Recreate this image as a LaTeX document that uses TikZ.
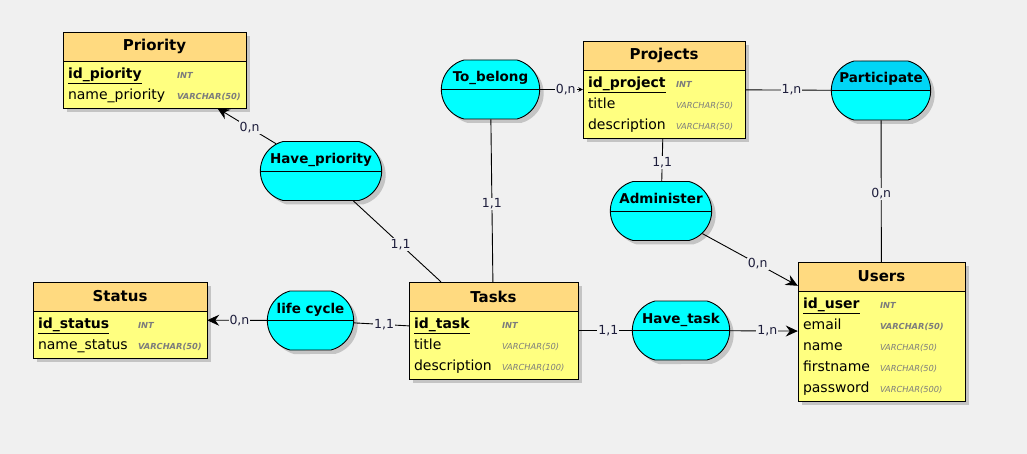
\documentclass[tikz,border=0pt]{standalone}
\usepackage{fontspec}
\setmainfont{DejaVu Sans}
\usetikzlibrary{positioning,shapes.misc,arrows.meta,fit,shadows}
\definecolor{canvas}{HTML}{F0F0F0}
\definecolor{headfill}{HTML}{FFDA80}
\definecolor{bodyfill}{HTML}{FFFF80}
\definecolor{relfill}{HTML}{00FFFF}
\definecolor{reltop}{HTML}{00D6F6}
\definecolor{shade}{HTML}{C4C4C4}
\definecolor{typegray}{HTML}{7C7C7C}
\definecolor{cardtext}{HTML}{1E1E3C}
\newcommand{\pkey}[1]{\underline{\textbf{#1}}}
\newcommand{\ftype}[1]{{\fontsize{8.3}{10}\selectfont\bfseries\itshape\color{typegray}#1}}
\newcommand{\ltype}[1]{{\fontsize{8.3}{10}\selectfont\itshape\color{typegray}#1}}
\tikzset{
  shad/.style={drop shadow={shadow xshift=4pt,shadow yshift=-4pt,fill=shade,opacity=1}},
  tabhead/.style={rectangle,draw,fill=headfill,shad,line width=0.9pt,outer sep=0pt,minimum width=#1,
    minimum height=29pt,inner sep=0pt,font=\fontsize{15}{17}\selectfont\bfseries},
  tabbody/.style={rectangle,draw,fill=bodyfill,shad,line width=0.9pt,outer sep=0pt,text width=#1,
    inner xsep=5pt,inner ysep=2.5pt,align=left,font=\fontsize{14}{21}\selectfont},
  rel/.style={rounded rectangle,rounded rectangle arc length=150,draw,fill=relfill,shad,
    line width=0.9pt,minimum height=59pt,minimum width=#1,text height=10pt,text depth=25pt,
    font=\fontsize{13.5}{16}\selectfont\bfseries,
    path picture={\draw[line width=0.9pt] (path picture bounding box.west) -- (path picture bounding box.east);}},
  relhi/.style={rel=#1,
    path picture={\fill[reltop] (path picture bounding box.north west) rectangle (path picture bounding box.east);
      \draw[line width=0.9pt] (path picture bounding box.west) -- (path picture bounding box.east);}},
  link/.style={draw,line width=0.9pt},
  arr/.style={link,-{Stealth[length=12pt,width=11pt,inset=4pt]}},
  arrs/.style={link,-{Stealth[length=4.5pt,width=4.5pt]}},
  card/.style={fill=canvas,inner sep=1pt,text=cardtext,font=\fontsize{12.5}{14}\selectfont},
}
\begin{document}
\begin{tikzpicture}[x=1pt,y=-1pt]
  \fill[canvas] (0,0) rectangle (1027,454);
  \useasboundingbox (0,0) rectangle (1027,454);

  % entities
  \node[tabhead=183pt,anchor=north west] (prioh) at (63,32) {Priority};
  \node[tabbody=173pt,below=0pt of prioh] (priob) {\begin{tabular}{@{}p{109pt}@{}l@{}}
    \pkey{id\_piority} & \ftype{INT}\\ name\_priority & \ftype{VARCHAR(50)}\end{tabular}};
  \node[fit=(prioh)(priob),inner sep=0pt] (prio) {};

  \node[tabhead=162pt,anchor=north west] (projh) at (583,41) {Projects};
  \node[tabbody=152pt,below=0pt of projh] (projb) {\begin{tabular}{@{}p{88pt}@{}l@{}}
    \pkey{id\_project} & \ftype{INT}\\ title & \ltype{VARCHAR(50)}\\
    description & \ltype{VARCHAR(50)}\end{tabular}};
  \node[fit=(projh)(projb),inner sep=0pt] (proj) {};

  \node[tabhead=174pt,anchor=north west] (stath) at (33,282) {Status};
  \node[tabbody=164pt,below=0pt of stath] (statb) {\begin{tabular}{@{}p{100pt}@{}l@{}}
    \pkey{id\_status} & \ftype{INT}\\ name\_status & \ftype{VARCHAR(50)}\end{tabular}};
  \node[fit=(stath)(statb),inner sep=0pt] (status) {};

  \node[tabhead=169pt,anchor=north west] (taskh) at (409,282) {Tasks};
  \node[tabbody=159pt,below=0pt of taskh] (taskb) {\begin{tabular}{@{}p{88pt}@{}l@{}}
    \pkey{id\_task} & \ftype{INT}\\ title & \ltype{VARCHAR(50)}\\
    description & \ltype{VARCHAR(100)}\end{tabular}};
  \node[fit=(taskh)(taskb),inner sep=0pt] (tasks) {};

  \node[tabhead=167pt,anchor=north west] (userh) at (798,262) {Users};
  \node[tabbody=157pt,below=0pt of userh] (userb) {\begin{tabular}{@{}p{77pt}@{}l@{}}
    \pkey{id\_user} & \ftype{INT}\\ email & \ftype{VARCHAR(50)}\\
    name & \ltype{VARCHAR(50)}\\ firstname & \ltype{VARCHAR(50)}\\
    password & \ltype{VARCHAR(500)}\end{tabular}};
  \node[fit=(userh)(userb),inner sep=0pt] (users) {};

  % associations
  \node[rel=128pt] (hprio) at (321,171) {Have\_priority};
  \node[rel=105pt] (tobel) at (490.5,89.5) {To\_belong};
  \node[relhi=106pt] (part) at (881,90.5) {Participate};
  \node[rel=108pt] (admin) at (661,211) {Administer};
  \node[rel=104pt] (htask) at (681,330.5) {Have\_task};
  \node[rel=93pt] (life) at (310.5,320.5) {life cycle};

  % links
  \draw[arr] (hprio) -- node[card,pos=0.45] (c1) {0,n} (prio);
  \draw[link] (hprio) -- node[card,pos=0.54] (c2) {1,1} (tasks);
  \draw[arrs] (tobel) -- node[card,pos=0.6] (c3) {0,n} (proj);
  \draw[link] (tobel) -- node[card,pos=0.52] (c4) {1,1} (tasks);
  \draw[link] (part) -- node[card,pos=0.46] (c5) {1,n} (proj);
  \draw[link] (part) -- node[card,pos=0.52] (c6) {0,n} (users);
  \draw[link] (admin) -- node[card,pos=0.43] (c7) {1,1} (proj);
  \draw[arr] (admin) -- node[card,pos=0.58] (c8) {0,n} (users);
  \draw[link] (htask) -- node[card,pos=0.44] (c9) {1,1} (tasks);
  \draw[arr] (htask) -- node[card,pos=0.55] (c10) {1,n} (users);
  \draw[arr] (life) -- node[card,pos=0.46] (c11) {0,n} (status);
  \draw[link] (life) -- node[card,pos=0.55] (c12) {1,1} (tasks);
\end{tikzpicture}
\end{document}
